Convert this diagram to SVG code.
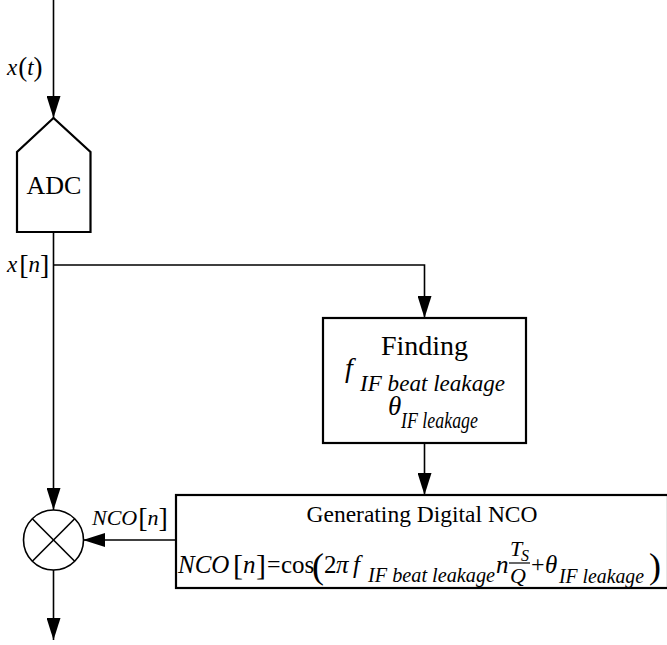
<svg xmlns="http://www.w3.org/2000/svg" width="667" height="645" viewBox="0 0 667 645" font-family="'Liberation Serif', 'Times New Roman', Times, serif">
<style>
.ln{stroke:#000;stroke-width:1.6;fill:none}
.bx{stroke:#000;stroke-width:2.2;fill:#fff}
text{font-family:'Liberation Serif','Times New Roman',Times,serif;fill:#000}
.i{font-style:italic}
</style>
<defs>
<marker id="ah" markerWidth="22" markerHeight="14" refX="22" refY="7" orient="auto" markerUnits="userSpaceOnUse">
<path d="M0,0 L22,7 L0,14 Z" fill="#000"/>
</marker>
</defs>
<rect width="667" height="645" fill="#fff"/>
<g id="connectors">
<line class="ln" x1="53.5" y1="0" x2="53.5" y2="118" marker-end="url(#ah)"/>
<line class="ln" x1="53.5" y1="232" x2="53.5" y2="510" marker-end="url(#ah)"/>
<polyline class="ln" points="53.5,265 424.5,265 424.5,318" marker-end="url(#ah)"/>
<line class="ln" x1="424.5" y1="443" x2="424.5" y2="495" marker-end="url(#ah)"/>
<line class="ln" x1="176" y1="540" x2="83" y2="540" marker-end="url(#ah)"/>
<line class="ln" x1="53.5" y1="570" x2="53.5" y2="640" marker-end="url(#ah)"/>
<text class="i" x="7" y="75" font-size="23">x<tspan font-style="normal" font-size="27" dx="1" dy="1">(</tspan><tspan dy="-1">t</tspan><tspan font-style="normal" font-size="27" dy="1">)</tspan></text>
<text class="i" x="7" y="272" font-size="23">x<tspan font-style="normal" font-size="28" dx="2" dy="2">[</tspan><tspan dy="-2">n</tspan><tspan font-style="normal" font-size="28" dy="2">]</tspan></text>
<text class="i" x="92" y="525" font-size="22">NCO<tspan font-style="normal" font-size="28" dx="1" dy="2">[</tspan><tspan dy="-2">n</tspan><tspan font-style="normal" font-size="28" dy="2">]</tspan></text>
</g>
<g id="adc">
<path class="bx" d="M53.5,118 L17,152 L17,232 L90.5,232 L90.5,152 Z"/>
<text x="54" y="194" font-size="26" text-anchor="middle">ADC</text>
</g>
<g id="finding">
<rect class="bx" x="323" y="318" width="203" height="125"/>
<text x="424.5" y="355" font-size="28" text-anchor="middle">Finding</text>
<text class="i" x="345" y="377" font-size="28">f</text>
<text class="i" x="360" y="391" font-size="24" textLength="145" lengthAdjust="spacingAndGlyphs">IF beat leakage</text>
<text class="i" x="388" y="415" font-size="27">θ</text>
<text class="i" x="401" y="428" font-size="24" textLength="77" lengthAdjust="spacingAndGlyphs">IF leakage</text>
</g>
<g id="nco">
<rect class="bx" x="176" y="495" width="492" height="93"/>
<text x="422" y="522" font-size="23.5" text-anchor="middle">Generating Digital NCO</text>
<text class="i" x="178" y="573" font-size="25">NCO</text>
<text x="233" y="575" font-size="30">[</text>
<text class="i" x="243" y="573" font-size="25">n</text>
<text x="256" y="575" font-size="30">]</text>
<text x="267" y="572" font-size="24">=</text>
<text x="281" y="573" font-size="25">cos</text>
<text x="312" y="578" font-size="36">(</text>
<text x="324" y="573" font-size="25">2</text>
<text class="i" x="336" y="573" font-size="25">π</text>
<text class="i" x="353" y="573" font-size="25">f</text>
<text class="i" x="368" y="582" font-size="21" textLength="127" lengthAdjust="spacingAndGlyphs">IF beat leakage</text>
<text class="i" x="496" y="573" font-size="25">n</text>
<text class="i" x="510" y="556" font-size="22">T</text>
<text class="i" x="521" y="561" font-size="16">S</text>
<line x1="509" y1="563" x2="530" y2="563" stroke="#000" stroke-width="1.2"/>
<text class="i" x="510" y="583" font-size="22">Q</text>
<text x="531" y="572" font-size="24">+</text>
<text class="i" x="545" y="573" font-size="25">θ</text>
<text class="i" x="559" y="583" font-size="21" textLength="85" lengthAdjust="spacingAndGlyphs">IF leakage</text>
<text x="649" y="578" font-size="36">)</text>
</g>
<g id="mixer">
<circle cx="53.5" cy="540" r="30" fill="#fff" stroke="#000" stroke-width="1.6"/>
<line class="ln" x1="32.3" y1="518.8" x2="74.7" y2="561.2"/>
<line class="ln" x1="74.7" y1="518.8" x2="32.3" y2="561.2"/>
</g>
</svg>
